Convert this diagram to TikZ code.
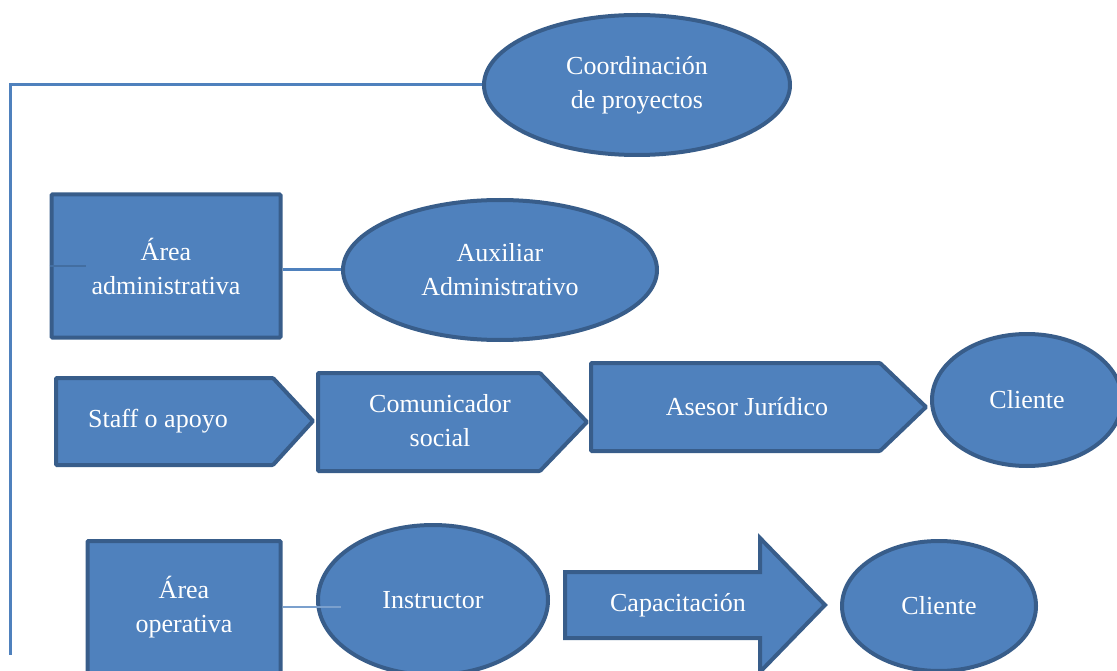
\documentclass[tikz,border=0pt]{standalone}
\usepackage{fontspec}
\setmainfont{Liberation Serif}
\usetikzlibrary{shapes.geometric}
\definecolor{chartfill}{HTML}{4F81BD}
\definecolor{chartedge}{HTML}{385D8A}
\tikzset{
  piece/.style={fill=chartfill, draw=chartedge, line width=4pt, rounded corners=1pt},
  words/.style={text=white, font=\fontsize{26}{34}\selectfont, align=center, inner sep=0pt},
  oval/.style={piece, words, ellipse},
  box/.style={piece, words, rectangle},
  link/.style={draw=chartfill, line width=3pt},
  thinlink/.style={draw=chartfill!75!white, line width=1.6pt},
  stub/.style={draw=chartfill!85!black, line width=2pt}
}
\begin{document}
\begin{tikzpicture}[x=1pt,y=-1pt]
        \useasboundingbox (0,0) rectangle (1117,671);
        %% Top of the chart
        \node[oval, minimum width=306, minimum height=140] (coord) at (637,85) {Coordinación\\de proyectos};
        \coordinate (trunktop) at (10,85);
        \coordinate (trunkend) at (10,655);
        %% Administrative row
        \node[box, minimum width=229, minimum height=143] (admin) at (166,266) {Área\\administrativa};
        \node[oval, minimum width=314, minimum height=140] (aux) at (500,270) {Auxiliar\\Administrativo};
        %% Staff row
        \draw[piece] (56,378) -- (273,378) -- (313,421) -- (273,465) -- (56,465) -- cycle;
        \node[words] (staff) at (158,421) {Staff o apoyo};
        \draw[piece] (318,373) -- (540,373) -- (587,422) -- (540,471) -- (318,471) -- cycle;
        \node[words] (comun) at (440,421) {Comunicador\\social};
        \draw[piece] (591,363) -- (880,363) -- (926,407) -- (880,451) -- (591,451) -- cycle;
        \node[words] (asesor) at (747,407) {Asesor Jurídico};
        \node[oval, minimum width=190, minimum height=132] (client) at (1027,400) {Cliente};
        %% Operative row
        \node[box, minimum width=193, minimum height=132] (oper) at (184,607) {Área\\operativa};
        \node[oval, minimum width=230, minimum height=150] (instr) at (433,600) {Instructor};
        \draw[piece, rounded corners=0pt] (565,572) -- (760,572) -- (760,538) -- (825,605) -- (760,672) -- (760,638) -- (565,638) -- cycle;
        \node[words] (capac) at (678,605) {Capacitación};
        \node[oval, minimum width=194, minimum height=130] (clientb) at (939,606) {Cliente};
        %% Connectors
        \draw[link] (coord.west) -- (trunktop) -- (trunkend);
        \draw[link] (admin.east |- aux.west) -- (aux.west);
        \draw[stub] (admin.west) -- ++(36,0);
        \draw[thinlink] (oper.east) -- ([xshift=25pt]instr.west |- oper.east);
\end{tikzpicture}
\end{document}
